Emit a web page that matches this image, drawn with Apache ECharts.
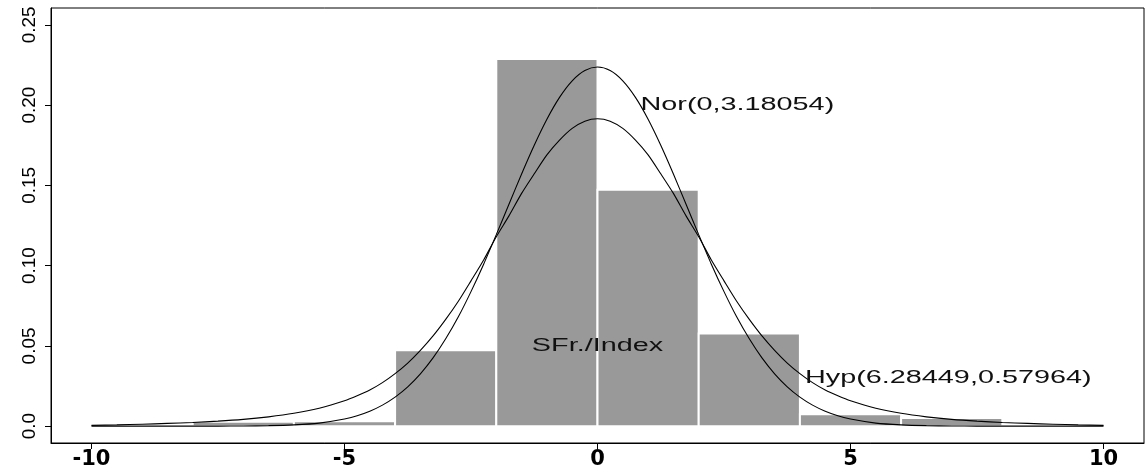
<!DOCTYPE html>
<html>
<head>
<meta charset="utf-8">
<script src="https://cdn.jsdelivr.net/npm/echarts@6/dist/echarts.min.js"></script>
<style>
html,body{margin:0;padding:0;background:#fff;}
#chart{width:1147px;height:470px;}
</style>
</head>
<body>
<div id="chart"></div>
<script>
// Histogram bins (SFr./Index returns)
var binStart = [-8, -6, -4, -2, 0, 2, 4, 6];
var binEnd   = [-6, -4, -2, 0, 2, 4, 6, 8];
var binDensity = [0.0028, 0.0030, 0.0473, 0.2287, 0.1472, 0.0577, 0.0074, 0.0050];

// Curve sample positions
var curveX = [-10,-9.5,-9,-8.5,-8,-7.5,-7,-6.5,-6,-5.5,
              -5,-4.75,-4.5,-4.25,-4,-3.75,-3.5,-3.25,-3,-2.75,-2.5,-2.25,-2,-1.75,-1.5,-1.25,-1,-0.75,-0.5,-0.25,
              0,0.25,0.5,0.75,1,1.25,1.5,1.75,2,2.25,2.5,2.75,3,3.25,3.5,3.75,4,4.25,4.5,4.75,5,
              5.5,6,6.5,7,7.5,8,8.5,9,9.5,10];
// Normal density Nor(0,3.18054)
var normalY = [0,0,0,0,0,0.00003,0.0001,0.0003,0.0008,0.0019,
               0.0044,0.0065,0.0093,0.0131,0.0181,0.0245,0.0326,0.0425,0.0544,0.0681,0.0838,0.1009,0.1193,0.1382,0.1571,0.1750,0.1912,0.2048,0.2151,0.2215,
               0.2237,0.2215,0.2151,0.2048,0.1912,0.1750,0.1571,0.1382,0.1193,0.1009,0.0838,0.0681,0.0544,0.0425,0.0326,0.0245,0.0181,0.0131,0.0093,0.0065,0.0044,
               0.0019,0.0008,0.0003,0.0001,0.00003,0,0,0,0,0];
// Hyperbolic density Hyp(6.28449,0.57964)
var hypY = [0.0005,0.0008,0.0012,0.0017,0.0023,0.0031,0.0042,0.0058,0.0080,0.0112,
            0.0158,0.0189,0.0225,0.0271,0.0327,0.0393,0.0472,0.0562,0.0665,0.0778,0.0905,0.1035,0.1180,0.1310,0.1450,0.1572,0.1690,0.1782,0.1855,0.1900,
            0.1915,0.1900,0.1855,0.1782,0.1690,0.1572,0.1450,0.1310,0.1180,0.1035,0.0905,0.0778,0.0665,0.0562,0.0472,0.0393,0.0327,0.0271,0.0225,0.0189,0.0158,
            0.0112,0.0080,0.0058,0.0042,0.0031,0.0023,0.0017,0.0012,0.0008,0.0005];

// Axis ticks
var xTickValues = [-10, -5, 0, 5, 10];
var xTickLabels = ['-10', '-5', '0', '5', '10'];
var yTickValues = [0, 0.05, 0.10, 0.15, 0.20, 0.25];
var yTickLabels = ['0.0', '0.05', '0.10', '0.15', '0.20', '0.25'];

// Annotations [text, x, y, align]
var annotations = [
  ['Nor(0,3.18054)', 0.85, 0.20, 'left'],
  ['SFr./Index', 0, 0.05, 'center'],
  ['Hyp(6.28449,0.57964)', 4.1, 0.03, 'left']
];

function pick(vals, labels, v) {
  for (var i = 0; i < vals.length; i++) if (Math.abs(vals[i] - v) < 1e-9) return labels[i];
  return '';
}

var binData = binStart.map(function (s, i) { return [s, binEnd[i], binDensity[i]]; });
var normalData = curveX.map(function (x, i) { return [x, normalY[i]]; });
var hypData = curveX.map(function (x, i) { return [x, hypY[i]]; });

var chart = echarts.init(document.getElementById('chart'), null, {renderer: 'canvas'});
var option = {
  animation: false,
  backgroundColor: '#ffffff',
  grid: {left: 51, right: 3, top: 8, bottom: 27, show: true, borderColor: '#000', borderWidth: 1, backgroundColor: 'transparent'},
  xAxis: {
    type: 'value', min: -10.8, max: 10.8,
    axisLine: {show: true, onZero: false, lineStyle: {color: '#000', width: 1}},
    axisTick: {show: true, length: 6, lineStyle: {color: '#000'}, customValues: xTickValues},
    axisLabel: {
      customValues: xTickValues, margin: 6, color: '#000',
      fontFamily: 'DejaVu Sans', fontWeight: 'bold', fontSize: 21,
      formatter: function (v) { return pick(xTickValues, xTickLabels, v); }
    },
    splitLine: {show: false}
  },
  yAxis: {
    type: 'value', min: -0.0105, max: 0.2605,
    axisLine: {show: true, onZero: false, lineStyle: {color: '#000', width: 1}},
    axisTick: {show: true, length: 6, lineStyle: {color: '#000'}, customValues: yTickValues},
    axisLabel: {
      customValues: yTickValues, margin: 12, rotate: 90, color: '#000',
      fontFamily: '"Liberation Sans Narrow", "Arial Narrow", "Liberation Sans", sans-serif', fontSize: 19,
      formatter: function (v) { return pick(yTickValues, yTickLabels, v); }
    },
    splitLine: {show: false}
  },
  series: [
    {
      type: 'custom', name: 'histogram', data: binData, z: 2,
      renderItem: function (params, api) {
        var p0 = api.coord([api.value(0), 0]);
        var p1 = api.coord([api.value(1), api.value(2)]);
        return {
          type: 'rect',
          shape: {x: p0[0], y: p1[1], width: p1[0] - p0[0], height: p0[1] - p1[1]},
          style: {fill: '#999999', stroke: '#ffffff', lineWidth: 2}
        };
      }
    },
    {
      type: 'line', name: 'Normal', data: normalData, smooth: 0.25, showSymbol: false, z: 3,
      lineStyle: {color: '#000', width: 1.1}
    },
    {
      type: 'line', name: 'Hyperbolic', data: hypData, smooth: 0.25, showSymbol: false, z: 3,
      lineStyle: {color: '#000', width: 1.1}
    }
  ]
};
chart.setOption(option);

var graphics = annotations.map(function (a) {
  var p = chart.convertToPixel({gridIndex: 0}, [a[1], a[2]]);
  return {
    type: 'text', x: p[0], y: p[1], scaleX: 1.6, z: 10,
    style: {text: a[0], x: 0, y: 0, align: a[3], verticalAlign: 'middle',
            font: '18px "Liberation Sans", Arial, sans-serif', fill: '#111'}
  };
});
chart.setOption({graphic: graphics});
</script>
</body>
</html>
